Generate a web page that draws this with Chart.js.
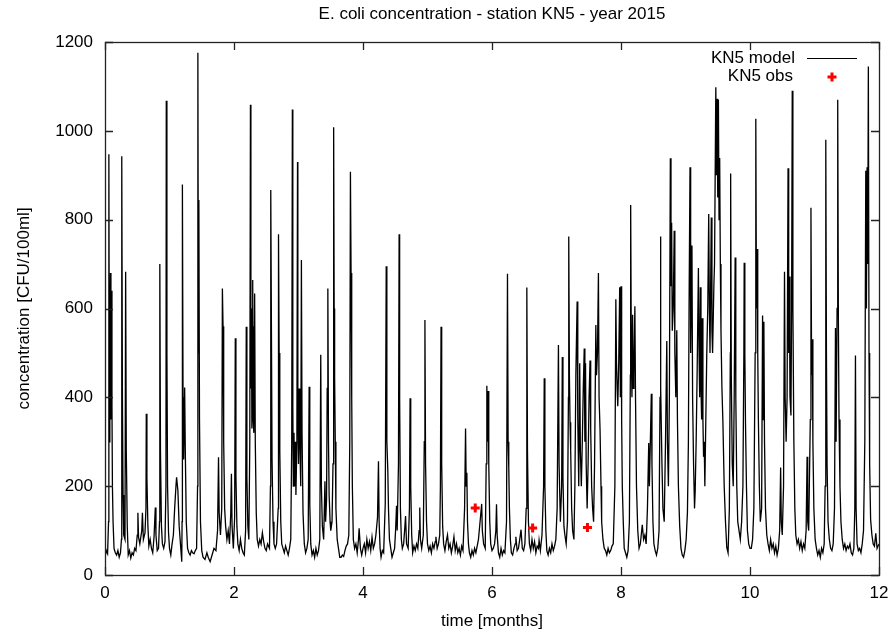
<!DOCTYPE html>
<html>
<head>
<meta charset="utf-8">
<title>E. coli concentration - station KN5 - year 2015</title>
<script src="https://cdn.jsdelivr.net/npm/chart.js@4.4.1/dist/chart.umd.min.js"></script>
<style>
  html, body { margin: 0; padding: 0; background: #fff; }
  canvas { display: block; }
</style>
</head>
<body>
<canvas id="chart" width="892" height="633"></canvas>
<script>
// Model time series [month, CFU/100ml]
const modelPoints = [
  // month 0-1
  [0.00, 40], [0.02, 55], [0.04, 48], [0.055, 120], [0.06, 947], [0.068, 300], [0.075, 420], [0.085, 680],
  [0.092, 350], [0.10, 640], [0.108, 380], [0.115, 200], [0.125, 120], [0.14, 60], [0.16, 50], [0.18, 45],
  [0.20, 55], [0.22, 40], [0.24, 50], [0.255, 80], [0.26, 943], [0.27, 400], [0.28, 180], [0.29, 90],
  [0.31, 80], [0.32, 683], [0.33, 280], [0.345, 110], [0.36, 45], [0.38, 55], [0.40, 38], [0.42, 50],
  [0.44, 45], [0.46, 60], [0.48, 55], [0.50, 90], [0.51, 140], [0.52, 85], [0.54, 70], [0.57, 100],
  [0.58, 140], [0.595, 80], [0.62, 95], [0.635, 150], [0.64, 363], [0.65, 220], [0.665, 110], [0.68, 65],
  [0.70, 80], [0.72, 60], [0.74, 50], [0.76, 85], [0.78, 152], [0.79, 90], [0.81, 55], [0.83, 60],
  [0.845, 120], [0.85, 700], [0.86, 280], [0.875, 110], [0.89, 70], [0.91, 60], [0.93, 75], [0.945, 200],
  [0.95, 1068], [0.96, 500], [0.97, 200], [0.985, 95], [1.00, 60],
  // month 1-2
  [1.02, 45], [1.04, 70], [1.06, 90], [1.08, 150], [1.10, 200], [1.11, 220], [1.13, 190], [1.15, 110],
  [1.17, 70], [1.19, 30], [1.195, 120], [1.20, 879], [1.21, 400], [1.22, 260], [1.235, 422], [1.245, 280],
  [1.26, 120], [1.28, 60], [1.30, 50], [1.32, 45], [1.34, 55], [1.36, 50], [1.38, 48], [1.40, 55],
  [1.42, 60], [1.435, 200], [1.44, 1176], [1.448, 500], [1.455, 844], [1.465, 350], [1.48, 120], [1.50, 55],
  [1.52, 40], [1.55, 35], [1.58, 50], [1.60, 40], [1.63, 30], [1.66, 45], [1.69, 60], [1.72, 55],
  [1.745, 100], [1.76, 265], [1.77, 140], [1.79, 90], [1.81, 150], [1.82, 645], [1.83, 560], [1.84, 300],
  [1.855, 150], [1.87, 110], [1.89, 80], [1.91, 100], [1.93, 70], [1.95, 140], [1.96, 228], [1.97, 110],
  [1.99, 60],
  // month 2-3
  [2.01, 130], [2.02, 533], [2.03, 220], [2.045, 110], [2.06, 70], [2.08, 55], [2.10, 80], [2.12, 60],
  [2.14, 50], [2.16, 45], [2.18, 100], [2.19, 559], [2.20, 220], [2.215, 110], [2.23, 80], [2.245, 300],
  [2.255, 1059], [2.262, 420], [2.27, 600], [2.277, 330], [2.285, 500], [2.29, 664], [2.297, 350], [2.305, 560],
  [2.31, 320], [2.32, 634], [2.33, 300], [2.345, 140], [2.36, 80], [2.38, 65], [2.40, 80], [2.42, 70],
  [2.44, 95], [2.46, 75], [2.48, 60], [2.50, 55], [2.52, 70], [2.55, 60], [2.565, 200], [2.57, 867],
  [2.58, 560], [2.59, 260], [2.605, 120], [2.62, 70], [2.64, 60], [2.66, 70], [2.685, 150], [2.69, 767],
  [2.70, 500], [2.71, 280], [2.725, 120], [2.74, 70], [2.76, 60], [2.78, 50], [2.80, 65], [2.82, 55],
  [2.84, 45], [2.86, 60], [2.88, 80], [2.895, 300], [2.905, 1048], [2.912, 380], [2.92, 200], [2.93, 320],
  [2.94, 200], [2.95, 300], [2.96, 180], [2.975, 300], [2.985, 930], [2.99, 400], [3.00, 250],
  // month 3-4
  [3.01, 420], [3.02, 300], [3.035, 200], [3.045, 709], [3.055, 320], [3.07, 140], [3.09, 70], [3.11, 50],
  [3.13, 60], [3.15, 80], [3.165, 424], [3.175, 160], [3.19, 70], [3.21, 45], [3.23, 55], [3.25, 40],
  [3.27, 60], [3.29, 45], [3.31, 55], [3.33, 80], [3.345, 496], [3.355, 200], [3.37, 110], [3.39, 80],
  [3.41, 211], [3.42, 120], [3.435, 170], [3.445, 420], [3.455, 645], [3.465, 300], [3.475, 180], [3.49, 120],
  [3.50, 100], [3.52, 120], [3.535, 250], [3.545, 1008], [3.553, 600], [3.56, 445], [3.57, 300], [3.58, 150],
  [3.60, 80], [3.62, 60], [3.64, 40], [3.66, 40], [3.68, 45], [3.70, 42], [3.72, 55], [3.74, 65],
  [3.76, 70], [3.78, 90], [3.795, 300], [3.805, 908], [3.815, 680], [3.825, 400], [3.835, 200], [3.85, 80],
  [3.87, 60], [3.89, 70], [3.91, 50], [3.93, 80], [3.94, 105], [3.96, 60], [3.98, 45], [4.00, 60],
  // month 4-5
  [4.02, 70], [4.04, 50], [4.06, 80], [4.08, 60], [4.10, 75], [4.12, 55], [4.14, 85], [4.16, 60],
  [4.18, 70], [4.20, 90], [4.225, 130], [4.24, 256], [4.25, 120], [4.265, 60], [4.28, 40], [4.30, 55],
  [4.32, 50], [4.345, 160], [4.36, 695], [4.37, 300], [4.385, 234], [4.395, 150], [4.41, 80], [4.43, 60],
  [4.45, 40], [4.47, 50], [4.49, 60], [4.505, 100], [4.52, 156], [4.53, 100], [4.55, 250], [4.56, 767],
  [4.568, 400], [4.58, 150], [4.595, 80], [4.61, 60], [4.63, 70], [4.65, 110], [4.66, 133], [4.675, 70],
  [4.70, 60], [4.72, 150], [4.73, 398], [4.74, 200], [4.755, 90], [4.77, 50], [4.79, 65], [4.81, 55],
  [4.83, 70], [4.85, 60], [4.87, 100], [4.88, 152], [4.89, 80], [4.91, 60], [4.935, 90], [4.95, 300],
  [4.96, 574], [4.97, 250], [4.985, 120], [5.00, 70],
  // month 5-6
  [5.02, 55], [5.04, 65], [5.06, 50], [5.08, 70], [5.10, 60], [5.12, 75], [5.13, 86], [5.15, 60],
  [5.17, 70], [5.19, 90], [5.20, 200], [5.21, 559], [5.22, 250], [5.235, 110], [5.25, 70], [5.27, 55],
  [5.29, 75], [5.31, 90], [5.33, 60], [5.35, 70], [5.37, 50], [5.39, 65], [5.41, 86], [5.43, 55],
  [5.45, 70], [5.47, 50], [5.49, 60], [5.51, 45], [5.53, 65], [5.55, 55], [5.575, 150], [5.59, 330],
  [5.60, 200], [5.61, 230], [5.62, 120], [5.635, 70], [5.65, 50], [5.67, 40], [5.69, 55], [5.71, 45],
  [5.73, 60], [5.75, 50], [5.77, 65], [5.79, 80], [5.815, 120], [5.84, 160], [5.85, 100], [5.87, 70],
  [5.895, 60], [5.91, 250], [5.92, 426], [5.93, 300], [5.94, 414], [5.95, 250], [5.965, 120], [5.98, 70],
  [6.00, 55],
  // month 6-7
  [6.02, 60], [6.04, 70], [6.06, 100], [6.07, 159], [6.08, 90], [6.10, 50], [6.12, 40], [6.14, 60],
  [6.16, 45], [6.18, 55], [6.20, 50], [6.225, 120], [6.24, 678], [6.25, 300], [6.26, 242], [6.27, 150],
  [6.285, 80], [6.30, 50], [6.32, 45], [6.34, 60], [6.36, 70], [6.37, 86], [6.39, 55], [6.41, 60],
  [6.43, 80], [6.45, 102], [6.47, 60], [6.49, 55], [6.51, 70], [6.53, 150], [6.54, 647], [6.55, 280],
  [6.565, 120], [6.58, 70], [6.60, 55], [6.62, 80], [6.64, 60], [6.66, 75], [6.68, 50], [6.70, 65],
  [6.72, 60], [6.73, 78], [6.75, 55], [6.775, 90], [6.80, 200], [6.81, 443], [6.82, 200], [6.835, 100],
  [6.85, 55], [6.87, 45], [6.89, 60], [6.91, 50], [6.93, 70], [6.95, 55], [6.97, 65], [6.99, 80],
  // month 7-8
  [7.01, 150], [7.03, 518], [7.04, 250], [7.06, 120], [7.08, 200], [7.09, 491], [7.10, 220], [7.115, 110],
  [7.13, 90], [7.15, 70], [7.17, 120], [7.185, 400], [7.19, 762], [7.20, 450], [7.21, 344], [7.22, 280],
  [7.235, 150], [7.25, 100], [7.27, 80], [7.285, 200], [7.30, 450], [7.32, 616], [7.33, 350], [7.345, 200],
  [7.36, 477], [7.37, 280], [7.385, 200], [7.40, 300], [7.415, 420], [7.43, 510], [7.44, 300], [7.45, 477],
  [7.46, 250], [7.475, 150], [7.49, 250], [7.505, 400], [7.52, 483], [7.53, 330], [7.545, 200], [7.56, 150],
  [7.575, 120], [7.59, 250], [7.61, 563], [7.62, 450], [7.635, 500], [7.65, 680], [7.66, 400], [7.675, 328],
  [7.69, 200], [7.70, 120], [7.72, 80], [7.74, 60], [7.76, 55], [7.78, 45], [7.80, 60], [7.82, 50],
  [7.84, 55], [7.86, 65], [7.88, 70], [7.905, 200], [7.92, 621], [7.93, 480], [7.94, 420], [7.95, 380],
  [7.965, 480], [7.98, 648], [7.99, 400],
  // month 8-9
  [8.00, 650], [8.01, 350], [8.02, 200], [8.035, 120], [8.05, 60], [8.07, 50], [8.09, 40], [8.11, 55],
  [8.13, 120], [8.145, 450], [8.15, 833], [8.16, 500], [8.17, 400], [8.18, 586], [8.19, 420], [8.20, 450],
  [8.215, 605], [8.225, 400], [8.24, 200], [8.26, 100], [8.28, 60], [8.30, 70], [8.33, 113], [8.35, 80],
  [8.37, 90], [8.39, 70], [8.41, 150], [8.43, 297], [8.44, 200], [8.455, 300], [8.47, 408], [8.48, 250],
  [8.495, 120], [8.51, 70], [8.53, 55], [8.55, 45], [8.57, 60], [8.59, 100], [8.605, 400], [8.61, 762],
  [8.62, 422], [8.635, 250], [8.65, 150], [8.67, 120], [8.69, 300], [8.71, 527], [8.72, 300], [8.735, 200],
  [8.75, 400], [8.765, 938], [8.775, 650], [8.785, 793], [8.795, 550], [8.81, 600], [8.825, 775], [8.835, 500],
  [8.85, 400], [8.865, 551], [8.875, 350], [8.89, 200], [8.91, 110], [8.93, 60], [8.95, 45], [8.97, 40],
  [8.99, 55],
  // month 9-10
  [9.01, 80], [9.03, 141], [9.045, 300], [9.055, 600], [9.07, 918], [9.08, 500], [9.10, 742], [9.11, 400],
  [9.125, 250], [9.14, 150], [9.15, 188], [9.165, 300], [9.18, 450], [9.20, 691], [9.21, 500], [9.22, 400],
  [9.23, 648], [9.24, 420], [9.25, 350], [9.26, 578], [9.27, 350], [9.28, 266], [9.29, 300], [9.30, 200],
  [9.315, 350], [9.33, 500], [9.345, 600], [9.36, 813], [9.37, 600], [9.38, 500], [9.40, 805], [9.41, 550],
  [9.42, 500], [9.44, 652], [9.45, 700], [9.47, 1098], [9.48, 900], [9.49, 1072], [9.50, 850], [9.51, 1070],
  [9.52, 800], [9.53, 939], [9.54, 700], [9.55, 550], [9.565, 420], [9.58, 344], [9.60, 200], [9.62, 120],
  [9.64, 62], [9.66, 50], [9.68, 150], [9.695, 500], [9.70, 904], [9.71, 450], [9.725, 250], [9.74, 200],
  [9.755, 400], [9.77, 715], [9.78, 400], [9.795, 200], [9.81, 120], [9.83, 100], [9.85, 80], [9.87, 120],
  [9.89, 200], [9.905, 500], [9.91, 703], [9.92, 500], [9.93, 344], [9.945, 200], [9.96, 100], [9.98, 70],
  [10.00, 60],
  // month 10-11
  [10.02, 60], [10.04, 80], [10.06, 150], [10.08, 500], [10.09, 1027], [10.10, 600], [10.11, 734], [10.12, 500],
  [10.13, 350], [10.145, 200], [10.16, 120], [10.18, 150], [10.195, 584], [10.205, 350], [10.215, 570], [10.225, 300],
  [10.24, 150], [10.26, 90], [10.28, 70], [10.30, 55], [10.32, 80], [10.34, 60], [10.36, 70], [10.38, 50],
  [10.40, 65], [10.42, 45], [10.44, 60], [10.46, 100], [10.475, 242], [10.485, 120], [10.50, 90], [10.52, 200],
  [10.535, 683], [10.545, 400], [10.56, 300], [10.575, 400], [10.59, 916], [10.60, 500], [10.61, 672], [10.62, 400],
  [10.635, 359], [10.645, 600], [10.655, 1090], [10.665, 600], [10.68, 300], [10.695, 150], [10.71, 90], [10.73, 70],
  [10.75, 80], [10.77, 60], [10.79, 75], [10.81, 55], [10.83, 70], [10.85, 60], [10.87, 100], [10.885, 266],
  [10.895, 120], [10.91, 100], [10.935, 350], [10.945, 827], [10.955, 450], [10.965, 531], [10.975, 300], [10.99, 150],
  // month 11-12
  [11.01, 80], [11.03, 60], [11.05, 45], [11.07, 55], [11.09, 40], [11.11, 60], [11.13, 50], [11.15, 70],
  [11.165, 200], [11.175, 980], [11.185, 500], [11.195, 250], [11.21, 120], [11.23, 80], [11.25, 60], [11.27, 55],
  [11.29, 70], [11.31, 150], [11.325, 556], [11.335, 300], [11.35, 600], [11.36, 1070], [11.37, 578], [11.38, 350],
  [11.395, 200], [11.41, 120], [11.43, 80], [11.45, 60], [11.47, 70], [11.49, 55], [11.51, 65], [11.53, 60],
  [11.55, 70], [11.57, 50], [11.59, 45], [11.61, 60], [11.625, 150], [11.635, 494], [11.645, 150], [11.66, 70],
  [11.68, 55], [11.70, 60], [11.72, 50], [11.74, 70], [11.76, 100], [11.78, 300], [11.795, 910], [11.805, 600],
  [11.815, 918], [11.825, 700], [11.835, 1145], [11.845, 500], [11.855, 250], [11.87, 125], [11.89, 90], [11.91, 70],
  [11.93, 65], [11.95, 94], [11.97, 60], [12.00, 70]
];

// Observations (red crosses)
const obsMonths = [5.74, 6.63, 7.48];
const obsConc = [151, 106, 107];

// Axis ranges / tick steps
const xRange = [0, 12];
const xStep = 2;
const yRange = [0, 1200];
const yStep = 200;

const titleText = 'E. coli concentration - station KN5 - year 2015';
const xLabel = 'time [months]';
const yLabel = 'concentration [CFU/100ml]';
const legendModel = 'KN5 model';
const legendObs = 'KN5 obs';

const FONT = '"Liberation Sans", Arial, Helvetica, sans-serif';
Chart.defaults.font.family = FONT;
Chart.defaults.font.size = 17;
Chart.defaults.color = '#000';

// gnuplot-like frame: box around the plot, inward ticks mirrored on all sides
const framePlugin = {
  id: 'gnuplotFrame',
  afterDatasetsDraw(chart) {
    const { ctx, chartArea: a, scales: { x, y } } = chart;
    const len = 8;
    ctx.save();
    ctx.strokeStyle = '#222';
    ctx.lineWidth = 1.3;
    ctx.beginPath();
    y.ticks.forEach((t) => {
      const py = Math.round(y.getPixelForValue(t.value)) + 0.5;
      ctx.moveTo(a.left, py); ctx.lineTo(a.left + len, py);
      ctx.moveTo(a.right, py); ctx.lineTo(a.right - len, py);
    });
    x.ticks.forEach((t) => {
      const px = Math.round(x.getPixelForValue(t.value)) + 0.5;
      ctx.moveTo(px, a.bottom); ctx.lineTo(px, a.bottom - len);
      ctx.moveTo(px, a.top); ctx.lineTo(px, a.top + len);
    });
    ctx.stroke();
    ctx.strokeRect(Math.round(a.left) + 0.5, Math.round(a.top) + 0.5,
      Math.round(a.right - a.left), Math.round(a.bottom - a.top));
    ctx.restore();
  }
};

// legend in gnuplot layout: right-aligned text, sample to the right
const legendPlugin = {
  id: 'gnuplotKey',
  afterDraw(chart) {
    const { ctx, chartArea: a } = chart;
    const textRight = a.right - 84;
    const sampleX = a.right - 47;
    const rows = [a.top + 16, a.top + 34];
    ctx.save();
    ctx.font = '17px ' + FONT;
    ctx.fillStyle = '#000';
    ctx.textAlign = 'right';
    ctx.textBaseline = 'middle';
    ctx.fillText(legendModel, textRight, rows[0]);
    ctx.fillText(legendObs, textRight - 2, rows[1]);
    ctx.strokeStyle = '#000';
    ctx.lineWidth = 1.2;
    ctx.beginPath();
    ctx.moveTo(sampleX - 25, rows[0] + 0.5);
    ctx.lineTo(sampleX + 25, rows[0] + 0.5);
    ctx.stroke();
    ctx.strokeStyle = '#ff0000';
    ctx.lineWidth = 3;
    ctx.beginPath();
    ctx.moveTo(sampleX - 4.5, rows[1] + 1); ctx.lineTo(sampleX + 4.5, rows[1] + 1);
    ctx.moveTo(sampleX, rows[1] - 3.5); ctx.lineTo(sampleX, rows[1] + 5.5);
    ctx.stroke();
    ctx.restore();
  }
};

new Chart(document.getElementById('chart'), {
  type: 'scatter',
  data: {
    datasets: [
      {
        label: legendObs,
        data: obsMonths.map((m, i) => ({ x: m, y: obsConc[i] })),
        pointStyle: 'cross',
        pointRadius: 4.5,
        borderWidth: 3,
        borderColor: '#ff0000',
        backgroundColor: '#ff0000',
        order: 0
      },
      {
        label: legendModel,
        data: modelPoints.map(([m, c]) => ({ x: m, y: c })),
        showLine: true,
        pointRadius: 0,
        borderWidth: 1.3,
        borderColor: '#000',
        tension: 0,
        order: 1
      }
    ]
  },
  options: {
    responsive: false,
    animation: false,
    events: [],
    layout: { padding: { left: 0, right: 13, top: 0, bottom: 0 } },
    plugins: {
      legend: { display: false },
      tooltip: { enabled: false },
      title: {
        display: true,
        text: titleText,
        fullSize: false,
        color: '#000',
        font: { size: 17, weight: 'normal' },
        padding: { top: 4, bottom: 17.6 }
      }
    },
    scales: {
      x: {
        type: 'linear',
        min: xRange[0],
        max: xRange[1],
        grid: { display: false, drawTicks: false },
        border: { display: false },
        ticks: { stepSize: xStep, maxRotation: 0, padding: 8, color: '#000', callback: (v) => String(v) },
        title: { display: true, text: xLabel, color: '#000', padding: { top: 0, bottom: 1 } },
        afterFit: (scale) => {
          scale.height = 58;
          scale.paddingLeft = 0;
          scale.paddingRight = 0;
        }
      },
      y: {
        type: 'linear',
        min: yRange[0],
        max: yRange[1],
        grid: { display: false, drawTicks: false },
        border: { display: false },
        ticks: { stepSize: yStep, padding: 12, color: '#000', callback: (v) => String(v) },
        title: { display: true, text: yLabel, color: '#000', padding: { top: 14, bottom: 0 } },
        afterFit: (scale) => {
          scale.width = 105;
          scale.paddingTop = 0;
          scale.paddingBottom = 0;
        }
      }
    }
  },
  plugins: [framePlugin, legendPlugin]
});
</script>
</body>
</html>
